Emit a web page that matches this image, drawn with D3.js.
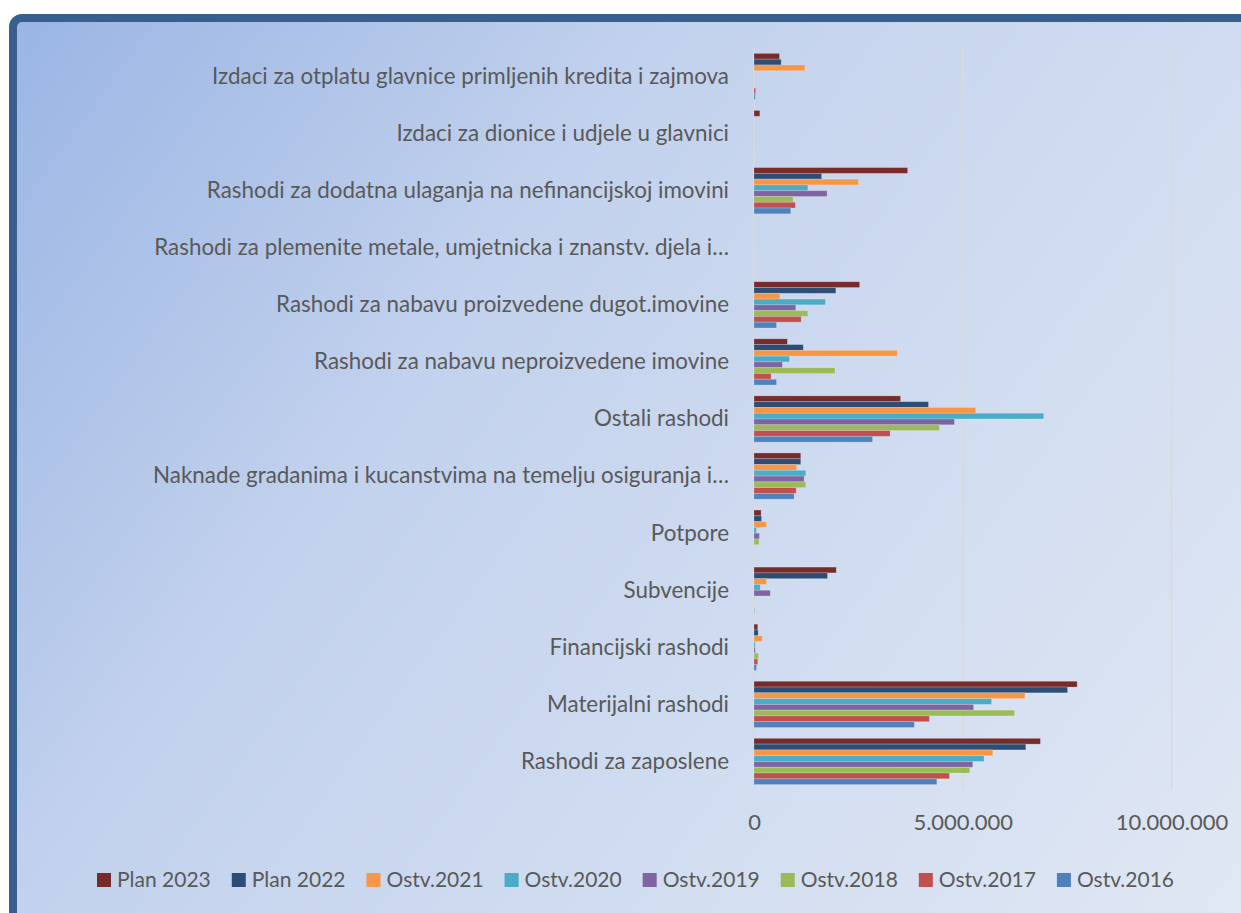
<!DOCTYPE html>
<html>
<head>
<meta charset="utf-8">
<script src="https://cdn.jsdelivr.net/npm/d3@7"></script>
<style>
  body { margin: 0; background: #fff; }
  text { font-family: Lato, "Open Sans", sans-serif; fill: #595959; }
</style>
</head>
<body>
<div id="chart"></div>
<script>
// categories, top to bottom as shown
var categories = [
    'Izdaci za otplatu glavnice primljenih kredita i zajmova',
    'Izdaci za dionice i udjele u glavnici',
    'Rashodi za dodatna ulaganja na nefinancijskoj imovini',
    'Rashodi za plemenite metale, umjetnicka i znanstv. djela i…',
    'Rashodi za nabavu proizvedene dugot.imovine',
    'Rashodi za nabavu neproizvedene imovine',
    'Ostali rashodi',
    'Naknade gradanima i kucanstvima na temelju osiguranja i…',
    'Potpore',
    'Subvencije',
    'Financijski rashodi',
    'Materijalni rashodi',
    'Rashodi za zaposlene'
];
var seriesNames = ['Plan 2023', 'Plan 2022', 'Ostv.2021', 'Ostv.2020', 'Ostv.2019', 'Ostv.2018', 'Ostv.2017', 'Ostv.2016'];
var seriesColors = ['#772c2a', '#2c4d75', '#f79646', '#4bacc6', '#8064a2', '#9bbb59', '#c0504d', '#4f81bd'];

var plan2023 = [610000, 140000, 3680000, 0, 2530000, 800000, 3510000, 1120000, 170000, 1970000, 90000, 7740000, 6860000];
var plan2022 = [650000, 0, 1620000, 0, 1960000, 1180000, 4180000, 1120000, 180000, 1760000, 100000, 7510000, 6510000];
var ostv2021 = [1220000, 0, 2500000, 0, 620000, 3430000, 5310000, 1020000, 300000, 300000, 200000, 6490000, 5720000];
var ostv2020 = [0, 0, 1290000, 0, 1710000, 850000, 6940000, 1240000, 60000, 150000, 30000, 5690000, 5510000];
var ostv2019 = [0, 0, 1750000, 0, 1000000, 680000, 4800000, 1200000, 130000, 390000, 30000, 5260000, 5240000];
var ostv2018 = [0, 0, 940000, 0, 1290000, 1940000, 4440000, 1240000, 120000, 10000, 110000, 6240000, 5170000];
var ostv2017 = [40000, 0, 990000, 0, 1130000, 410000, 3260000, 1010000, 0, 0, 90000, 4200000, 4680000];
var ostv2016 = [30000, 0, 880000, 0, 540000, 540000, 2840000, 960000, 0, 10000, 60000, 3840000, 4380000];

var tickValues = [0, 5000000, 10000000];
var tickLabels = ['0', '5.000.000', '10.000.000'];

var allSeries = [plan2023, plan2022, ostv2021, ostv2020, ostv2019, ostv2018, ostv2017, ostv2016];

//Basic setting
var w = 1241, h = 913;
var plot = {left: 754, right: 1171.5, top: 48, bottom: 790};

var svg = d3.select('#chart').append('svg')
    .attr('width', w)
    .attr('height', h);

// background gradient + border
var grad = svg.append('defs').append('linearGradient')
    .attr('id', 'bg')
    .attr('gradientUnits', 'userSpaceOnUse')
    .attr('x1', 13).attr('y1', 18).attr('x2', w).attr('y2', h);
[[0, '#9ab5e4'], [0.35, '#c2d1ed'], [0.65, '#d0dcf0'], [1, '#e0e7f4']].forEach(function(s) {
    grad.append('stop').attr('offset', s[0]).attr('stop-color', s[1]);
});
svg.append('rect')
    .attr('x', 13).attr('y', 18)
    .attr('width', w + 40).attr('height', h + 40)
    .attr('rx', 9)
    .attr('fill', 'url(#bg)')
    .attr('stroke', '#37608f')
    .attr('stroke-width', 8);

//scales
var x = d3.scaleLinear()
    .domain([0, 10000000])
    .range([plot.left, plot.right]);
var y = d3.scaleBand()
    .domain(categories)
    .range([plot.top, plot.bottom])
    .paddingInner(0.19)
    .paddingOuter(0.095);
var ySub = d3.scaleBand()
    .domain(seriesNames)
    .range([0, y.bandwidth()]);

//gridlines
svg.selectAll('line.grid')
    .data(tickValues).enter()
    .append('line')
    .attr('class', 'grid')
    .attr('x1', function(d) {return x(d)})
    .attr('x2', function(d) {return x(d)})
    .attr('y1', plot.top)
    .attr('y2', plot.bottom)
    .attr('stroke', '#d9d9d9')
    .attr('stroke-width', 1.5);

//bars
var groups = svg.selectAll('g.series')
    .data(allSeries).enter()
    .append('g')
    .attr('class', 'series')
    .attr('fill', function(d, i) {return seriesColors[i]})
    .attr('transform', function(d, i) {return 'translate(0,' + ySub(seriesNames[i]) + ')'});

groups.selectAll('rect')
    .data(function(d) {return d}).enter()
    .append('rect')
    .attr('x', x(0))
    .attr('y', function(d, i) {return y(categories[i])})
    .attr('width', function(d) {return x(d) - x(0)})
    .attr('height', ySub.bandwidth())
    .attr('stroke', 'rgba(255,255,255,0.25)')
    .attr('stroke-width', 0.8);

//category labels
var yAxis = d3.axisLeft(y).tickSize(0).tickPadding(25);
var gy = svg.append('g')
    .attr('transform', 'translate(' + plot.left + ',0)')
    .call(yAxis);
gy.select('.domain').remove();
gy.selectAll('text')
    .attr('font-size', '22.4px')
    .attr('dy', '0.33em')
    .style('font-family', 'Lato, sans-serif')
    .attr('fill', '#595959');

//value axis labels
var xAxis = d3.axisBottom(x)
    .tickValues(tickValues)
    .tickSize(0)
    .tickPadding(24)
    .tickFormat(function(d, i) {return tickLabels[i]});
var gx = svg.append('g')
    .attr('transform', 'translate(0,' + plot.bottom + ')')
    .call(xAxis);
gx.select('.domain').remove();
gx.selectAll('text')
    .attr('font-size', '22px')
    .style('font-family', 'Lato, sans-serif')
    .attr('fill', '#595959');

//legend
var legend = svg.append('g').attr('class', 'legend');
var cursor = 0;
seriesNames.forEach(function(name, i) {
    var item = legend.append('g').attr('transform', 'translate(' + cursor + ',0)');
    item.append('rect')
        .attr('x', 0).attr('y', -7)
        .attr('width', 14).attr('height', 14)
        .attr('fill', seriesColors[i]);
    var t = item.append('text')
        .attr('x', 20)
        .attr('dy', '0.35em')
        .attr('font-size', '21px')
        .text(name);
    cursor += 20 + t.node().getComputedTextLength() + 21;
});
var legendW = cursor - 21;
legend.attr('transform', 'translate(' + (635.5 - legendW / 2) + ',880)');
</script>
</body>
</html>
